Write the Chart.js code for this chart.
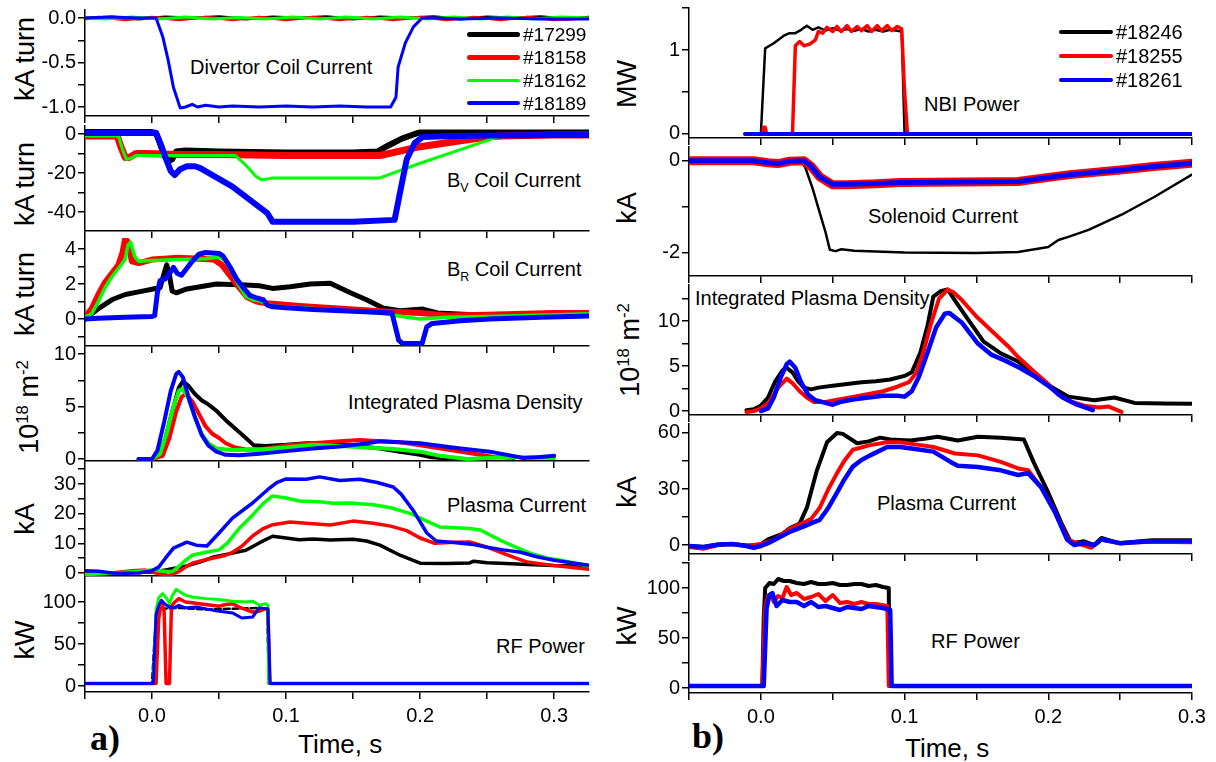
<!DOCTYPE html>
<html>
<head>
<meta charset="utf-8">
<script src="https://cdn.jsdelivr.net/npm/chart.js@4.4.1/dist/chart.umd.min.js"></script>
<style>
  body { margin: 0; background: #fff; }
  #fig { position: relative; width: 1216px; height: 762px; overflow: hidden;
         font-family: "Liberation Sans", Arial, sans-serif; color: #000; }
  #fig canvas { position: absolute; }
  .t { position: absolute; white-space: nowrap; line-height: 1; }
  .ann { font-size: 20px; }
  .yt { font-size: 27px; transform: translate(-50%, -50%) rotate(-90deg); }
  .lab { font-family: "Liberation Serif", "Times New Roman", serif; font-weight: bold; font-size: 36px; }
  .time { font-size: 26px; }
  .sw { position: absolute; }
  sub, sup { font-size: 62%; line-height: 0; }
</style>
</head>
<body>
<div id="fig">
  <div class="t ann" style="left:190px;top:57px">Divertor Coil Current</div>
  <div class="t ann" style="left:447px;top:170px">B<sub>V</sub> Coil Current</div>
  <div class="t ann" style="left:447px;top:259px">B<sub>R</sub> Coil Current</div>
  <div class="t ann" style="left:348px;top:392px">Integrated Plasma Density</div>
  <div class="t ann" style="left:447px;top:495px">Plasma Current</div>
  <div class="t ann" style="left:496px;top:636px">RF Power</div>
  <div class="t ann" style="left:924px;top:94px">NBI Power</div>
  <div class="t ann" style="left:868px;top:206px">Solenoid Current</div>
  <div class="t ann" style="left:695px;top:288px">Integrated Plasma Density</div>
  <div class="t ann" style="left:877px;top:493px">Plasma Current</div>
  <div class="t ann" style="left:931px;top:631px">RF Power</div>

  <div class="t yt" style="left:25px;top:59px">kA turn</div>
  <div class="t yt" style="left:25px;top:184px">kA turn</div>
  <div class="t yt" style="left:25px;top:294px">kA turn</div>
  <div class="t yt" style="left:29px;top:407px">10<sup>18</sup> m<sup>-2</sup></div>
  <div class="t yt" style="left:25px;top:519px">kA</div>
  <div class="t yt" style="left:25px;top:640px">kW</div>
  <div class="t yt" style="left:627px;top:84px">MW</div>
  <div class="t yt" style="left:627px;top:208px">kA</div>
  <div class="t yt" style="left:630px;top:350px">10<sup>18</sup> m<sup>-2</sup></div>
  <div class="t yt" style="left:627px;top:492px">kA</div>
  <div class="t yt" style="left:627px;top:626px">kW</div>

  <div class="t time" style="left:298px;top:731px">Time, s</div>
  <div class="t time" style="left:905px;top:735px">Time, s</div>
  <div class="t lab" style="left:90px;top:720px">a)</div>
  <div class="t lab" style="left:692px;top:718px">b)</div>
</div>
<script>
// shots shown in each column
const shotsA = ["#17299", "#18158", "#18162", "#18189"];
const shotsB = ["#18246", "#18255", "#18261"];

// ---- a) left column, [time s, value]
const divBlack = [[-0.05,0],[-0.03,0.01],[-0.01,-0.01],[0.01,0.01],[0.03,0],[0.05,0.015],[0.07,-0.01],[0.09,0.01],[0.11,0],[0.13,0.015],[0.15,-0.01],[0.17,0.01],[0.19,0],[0.21,0.015],[0.23,-0.01],[0.25,0.01],[0.27,0],[0.29,0.015],[0.31,-0.01],[0.326,0.01]];
const divRed = [[-0.05,-0.01],[-0.04,0.01],[-0.02,-0.02],[0.0,0.01],[0.02,-0.02],[0.04,0.01],[0.06,-0.02],[0.08,0.01],[0.1,-0.02],[0.12,0.01],[0.14,-0.02],[0.16,0.01],[0.18,-0.02],[0.2,0.01],[0.22,-0.02],[0.24,0.01],[0.26,-0.02],[0.28,0.01],[0.3,-0.02],[0.326,0]];
const divGreen = [[-0.05,0],[-0.035,-0.01],[-0.015,0.01],[0.005,-0.01],[0.025,0.01],[0.045,-0.01],[0.065,0.005],[0.085,-0.01],[0.105,0.01],[0.125,-0.01],[0.145,0.01],[0.165,-0.01],[0.185,0.01],[0.205,-0.01],[0.225,0.01],[0.245,-0.01],[0.265,0.01],[0.285,-0.01],[0.305,0.01],[0.326,0]];
const divBlue = [[-0.05,0],[-0.03,0.01],[-0.01,0],[0.003,0],[0.008,-0.21],[0.012,-0.47],[0.016,-0.78],[0.021,-1.01],[0.025,-1.0],[0.03,-0.97],[0.034,-1.0],[0.04,-0.98],[0.05,-1.0],[0.06,-0.99],[0.08,-1.0],[0.1,-0.99],[0.12,-1.0],[0.14,-0.99],[0.16,-1.0],[0.178,-1.0],[0.182,-0.89],[0.1836,-0.55],[0.189,-0.28],[0.195,-0.1],[0.2015,0.0],[0.21,0],[0.23,-0.01],[0.26,0],[0.29,-0.01],[0.326,-0.01]];

const bvBlack = [[-0.05,1],[-0.02,1],[0.0,1],[0.003,0.5],[0.006,-5],[0.009,-11],[0.012,-14],[0.015,-13],[0.018,-9],[0.025,-8.5],[0.05,-9],[0.1,-9.5],[0.15,-9.5],[0.168,-9],[0.176,-6],[0.186,-2.5],[0.196,0],[0.2,0.8],[0.25,0.8],[0.326,0.8]];
const bvRed = [[-0.05,-1],[-0.026,-1],[-0.023,-7],[-0.02,-12],[-0.017,-12],[-0.012,-10],[-0.005,-10],[0.02,-10.5],[0.05,-10.5],[0.1,-11],[0.15,-11],[0.17,-11],[0.2,-6.5],[0.23,-3.5],[0.25,-1.5],[0.26,-1],[0.3,-0.5],[0.326,-0.5]];
const bvGreen = [[-0.05,-1],[-0.025,-1],[-0.022,-8],[-0.019,-13],[-0.016,-12.5],[-0.012,-11],[0.0,-11],[0.03,-11],[0.062,-11],[0.07,-16],[0.078,-22],[0.082,-23.5],[0.09,-22.5],[0.12,-22.5],[0.17,-22.5],[0.2,-15],[0.23,-8],[0.262,-0.5],[0.3,-0.3],[0.326,-0.3]];
const bvBlue = [[-0.05,0.5],[-0.01,0.5],[0.003,0.5],[0.007,-6],[0.01,-12],[0.014,-19],[0.017,-21],[0.021,-18],[0.026,-16.5],[0.032,-16.5],[0.036,-17.5],[0.06,-27],[0.086,-40.5],[0.09,-45],[0.1,-45],[0.15,-45],[0.181,-44],[0.185,-30],[0.19,-13],[0.196,-4.6],[0.202,-1.5],[0.22,-1.2],[0.25,-0.8],[0.3,-0.5],[0.326,-0.5]];

const brBlack = [[-0.05,0],[-0.045,0.3],[-0.04,0.6],[-0.03,1.1],[-0.02,1.4],[-0.01,1.55],[0.0,1.7],[0.006,1.8],[0.009,2.6],[0.011,3.1],[0.013,2.5],[0.015,1.6],[0.018,1.5],[0.025,1.7],[0.048,2.0],[0.07,1.95],[0.08,1.9],[0.09,1.75],[0.103,1.85],[0.118,2.0],[0.133,2.05],[0.148,1.5],[0.16,1.1],[0.172,0.64],[0.185,0.47],[0.202,0.57],[0.213,0.35],[0.24,0.24],[0.267,0.24],[0.3,0.3],[0.326,0.3]];
const brRed = [[-0.05,0.1],[-0.045,0.6],[-0.04,1.4],[-0.035,2.1],[-0.03,2.6],[-0.025,3.1],[-0.022,3.8],[-0.02,4.6],[-0.018,4.4],[-0.015,3.3],[-0.01,3.2],[0,3.4],[0.02,3.5],[0.046,3.4],[0.052,3.1],[0.061,2.2],[0.071,1.26],[0.078,1.0],[0.086,0.9],[0.11,0.75],[0.13,0.65],[0.15,0.55],[0.17,0.45],[0.2,0.35],[0.22,0.2],[0.25,0.25],[0.3,0.35],[0.326,0.35]];
const brGreen = [[-0.05,0.1],[-0.045,0.3],[-0.04,1.0],[-0.035,1.8],[-0.03,2.4],[-0.025,2.9],[-0.02,3.4],[-0.018,4.2],[-0.016,4.4],[-0.013,3.6],[-0.01,3.3],[0,3.35],[0.02,3.4],[0.04,3.45],[0.05,3.55],[0.055,3.3],[0.06,2.6],[0.065,1.9],[0.07,1.3],[0.075,1.1],[0.08,1.05],[0.085,0.9],[0.09,0.75],[0.1,0.7],[0.12,0.6],[0.15,0.45],[0.17,0.35],[0.19,0.1],[0.2,0.0],[0.22,0.1],[0.25,0.15],[0.3,0.25],[0.326,0.3]];
const brBlue = [[-0.05,0],[-0.04,0.05],[-0.02,0.1],[0.0,0.15],[0.002,0.2],[0.004,1.5],[0.006,2.2],[0.01,2.3],[0.013,2.6],[0.016,2.95],[0.019,2.6],[0.022,2.5],[0.026,2.9],[0.03,3.3],[0.035,3.7],[0.04,3.8],[0.05,3.75],[0.053,3.6],[0.058,3.0],[0.063,2.3],[0.068,1.8],[0.073,1.35],[0.078,1.2],[0.083,1.1],[0.086,0.8],[0.09,0.7],[0.1,0.65],[0.12,0.55],[0.15,0.45],[0.179,0.35],[0.184,-1.2],[0.187,-1.4],[0.2015,-1.4],[0.205,-0.45],[0.209,-0.25],[0.23,-0.1],[0.252,0.0],[0.29,0.1],[0.326,0.17]];

const dnBlack = [[-0.01,0],[0.0,0],[0.005,0.3],[0.01,2.0],[0.015,4.5],[0.02,6.8],[0.023,7.4],[0.027,7.0],[0.032,6.2],[0.037,5.6],[0.042,5.2],[0.048,4.6],[0.055,3.7],[0.062,2.9],[0.07,2.0],[0.076,1.3],[0.085,1.25],[0.1,1.35],[0.115,1.5],[0.13,1.45],[0.15,1.3],[0.17,1.0],[0.185,0.7],[0.2,0.4],[0.207,0.2],[0.22,0.05],[0.235,0.0]];
const dnRed = [[-0.01,0],[0.0,0],[0.008,0.3],[0.013,2.0],[0.018,4.5],[0.022,5.9],[0.025,6.2],[0.03,5.5],[0.035,4.3],[0.04,3.1],[0.045,2.4],[0.05,2.0],[0.055,1.5],[0.062,1.1],[0.07,0.9],[0.08,0.9],[0.09,1.1],[0.1,1.3],[0.12,1.5],[0.14,1.7],[0.155,1.8],[0.17,1.7],[0.185,1.6],[0.2,1.3],[0.22,0.9],[0.24,0.5],[0.255,0.2],[0.27,0.1]];
const dnGreen = [[-0.01,0],[0.0,0],[0.006,0.5],[0.011,2.5],[0.016,5.0],[0.02,6.5],[0.023,6.7],[0.027,5.8],[0.032,4.0],[0.037,2.4],[0.042,1.5],[0.048,1.0],[0.06,0.85],[0.08,0.9],[0.1,1.1],[0.12,1.35],[0.14,1.25],[0.16,1.1],[0.18,0.95],[0.2,0.7],[0.215,0.3],[0.235,0.0],[0.25,0.1],[0.27,0.2],[0.3,0.1]];
const dnBlue = [[-0.01,0],[0.0,0],[0.004,0.8],[0.009,3.5],[0.014,6.5],[0.018,8.1],[0.02,8.3],[0.023,7.8],[0.027,6.0],[0.032,4.0],[0.037,2.3],[0.042,1.3],[0.048,0.7],[0.055,0.4],[0.065,0.35],[0.08,0.5],[0.1,0.75],[0.12,1.0],[0.14,1.2],[0.155,1.4],[0.17,1.7],[0.2,1.5],[0.227,1.05],[0.252,0.7],[0.277,0.1],[0.29,0.2],[0.3,0.3]];

const ipBlack = [[-0.05,0.2],[-0.03,0],[-0.01,0.5],[0.0,0.3],[0.01,1.0],[0.026,2.4],[0.035,3.6],[0.046,5.4],[0.06,6.7],[0.07,7.7],[0.081,10.4],[0.09,12.4],[0.1,11.8],[0.11,11.2],[0.12,11.5],[0.133,11.1],[0.15,11.4],[0.16,10.8],[0.17,9.4],[0.185,6.0],[0.2,3.3],[0.22,3.2],[0.237,3.4],[0.24,4.0],[0.25,3.5],[0.26,3.3],[0.28,2.9],[0.3,2.5],[0.326,2.3]];
const ipRed = [[-0.05,-0.3],[-0.03,0],[-0.015,0.8],[-0.005,1.0],[0.0,0.3],[0.008,-0.5],[0.013,-0.8],[0.02,0.5],[0.025,2.0],[0.03,3.3],[0.04,4.5],[0.05,5.5],[0.055,6.0],[0.06,7.0],[0.067,9.0],[0.075,12.5],[0.083,15.0],[0.09,16.3],[0.103,17.2],[0.115,16.8],[0.133,16.2],[0.15,17.5],[0.165,16.8],[0.178,15.8],[0.19,14.3],[0.2,11.8],[0.211,10.0],[0.225,10.4],[0.237,10.5],[0.25,8.7],[0.26,7.0],[0.27,5.3],[0.28,3.7],[0.3,2.5],[0.326,1.3]];
const ipGreen = [[-0.05,-0.5],[-0.03,-0.1],[-0.01,0.6],[0.0,1.0],[0.01,0.6],[0.015,0.5],[0.02,2.2],[0.025,4.3],[0.03,6.0],[0.04,7.0],[0.05,7.8],[0.056,10.0],[0.065,15.0],[0.075,19.5],[0.083,23.5],[0.09,26.0],[0.1,25.3],[0.11,24.3],[0.125,24.0],[0.135,23.5],[0.148,23.6],[0.165,23.0],[0.178,22.0],[0.193,20.0],[0.205,17.5],[0.215,15.5],[0.237,15.0],[0.245,14.5],[0.26,11.0],[0.27,9.0],[0.282,6.7],[0.295,5.0],[0.304,4.4],[0.326,2.4]];
const ipBlue = [[-0.05,0.8],[-0.04,0.6],[-0.03,0],[-0.02,-0.1],[-0.01,0.0],[0.0,0.8],[0.005,2.0],[0.01,5.0],[0.016,8.4],[0.026,10.4],[0.033,9.4],[0.041,9.1],[0.05,13.5],[0.06,18.5],[0.075,23.6],[0.086,28.0],[0.093,30.5],[0.1,31.7],[0.115,31.6],[0.125,32.4],[0.14,31.2],[0.155,31.6],[0.168,30.5],[0.18,29.0],[0.186,26.5],[0.195,21.0],[0.205,13.5],[0.212,10.8],[0.225,10.3],[0.24,9.6],[0.25,8.7],[0.262,7.8],[0.275,7.0],[0.287,5.5],[0.3,4.3],[0.326,2.6]];

const rfBlack = [[-0.05,3],[0.0,3],[0.002,60],[0.004,90],[0.008,92],[0.02,93],[0.04,91],[0.06,92],[0.08,93],[0.086,92],[0.087,3],[0.326,3]];
const rfRed = [[-0.05,3],[0.003,3],[0.005,80],[0.007,100],[0.009,90],[0.0105,3],[0.013,3],[0.0145,95],[0.017,100],[0.02,104],[0.025,100],[0.03,99],[0.035,98],[0.04,97],[0.05,95],[0.055,97],[0.06,98],[0.065,94],[0.07,91],[0.075,88],[0.08,89],[0.085,92],[0.0865,90],[0.088,3],[0.326,3]];
const rfGreen = [[-0.05,3],[0.001,3],[0.003,90],[0.005,105],[0.008,110],[0.011,104],[0.013,98],[0.015,107],[0.018,115],[0.021,112],[0.025,108],[0.03,106],[0.04,104],[0.05,103],[0.06,101],[0.07,100],[0.075,101],[0.08,96],[0.085,98],[0.0865,96],[0.087,3],[0.326,3]];
const rfBlue = [[-0.05,3],[0.001,3],[0.003,85],[0.005,96],[0.007,102],[0.01,97],[0.013,94],[0.016,93],[0.02,96],[0.025,93],[0.033,94],[0.046,90],[0.06,87],[0.067,81],[0.075,82],[0.08,93],[0.0865,92],[0.088,3],[0.326,3]];

// ---- b) right column
const nbiBlack = [[-0.011,0],[0.0,0],[0.003,1.02],[0.006,1.05],[0.009,1.08],[0.012,1.12],[0.016,1.17],[0.02,1.2],[0.024,1.2],[0.028,1.24],[0.032,1.29],[0.036,1.24],[0.04,1.27],[0.045,1.23],[0.05,1.26],[0.055,1.23],[0.06,1.25],[0.065,1.23],[0.07,1.25],[0.075,1.22],[0.08,1.24],[0.085,1.22],[0.09,1.24],[0.095,1.23],[0.098,1.22],[0.1,0],[0.3,0]];
const nbiRed = [[-0.011,0],[0.001,0],[0.002,0.08],[0.003,0.08],[0.004,0],[0.022,0],[0.024,1.05],[0.027,1.1],[0.03,1.05],[0.034,1.07],[0.038,1.12],[0.04,1.22],[0.043,1.2],[0.046,1.27],[0.05,1.22],[0.053,1.28],[0.056,1.22],[0.06,1.29],[0.063,1.22],[0.067,1.28],[0.07,1.23],[0.074,1.29],[0.077,1.22],[0.081,1.29],[0.084,1.23],[0.088,1.29],[0.091,1.23],[0.095,1.28],[0.098,1.25],[0.1,0.5],[0.102,0],[0.3,0]];
const nbiBlue = [[-0.011,0],[0.1,0],[0.2,0],[0.3,0]];

const solBlack = [[-0.05,0],[-0.005,0],[0.005,-0.04],[0.012,-0.06],[0.02,-0.01],[0.028,0.0],[0.031,-0.15],[0.036,-0.6],[0.041,-1.13],[0.045,-1.55],[0.048,-1.93],[0.052,-1.96],[0.056,-1.92],[0.065,-1.95],[0.08,-1.97],[0.1,-1.99],[0.15,-2.0],[0.179,-1.98],[0.2,-1.87],[0.207,-1.72],[0.214,-1.65],[0.228,-1.5],[0.251,-1.17],[0.274,-0.78],[0.3,-0.3]];
const solRed = [[-0.05,0],[-0.02,0],[-0.005,0],[0.005,-0.04],[0.012,-0.06],[0.02,-0.01],[0.03,0.0],[0.035,-0.12],[0.041,-0.35],[0.05,-0.52],[0.06,-0.52],[0.08,-0.5],[0.097,-0.47],[0.14,-0.46],[0.179,-0.45],[0.2,-0.36],[0.215,-0.3],[0.25,-0.2],[0.275,-0.12],[0.3,-0.05]];
const solBlue = [[-0.05,0],[-0.02,0],[-0.005,0],[0.005,-0.04],[0.012,-0.06],[0.02,-0.01],[0.03,0.0],[0.035,-0.12],[0.041,-0.35],[0.05,-0.51],[0.06,-0.51],[0.08,-0.49],[0.097,-0.47],[0.14,-0.46],[0.179,-0.45],[0.2,-0.36],[0.215,-0.3],[0.25,-0.2],[0.275,-0.12],[0.3,-0.05]];

const nbBlack = [[-0.01,0.1],[-0.005,0.2],[0.0,0.6],[0.005,1.5],[0.01,3.3],[0.015,4.5],[0.018,4.8],[0.022,4.3],[0.026,3.3],[0.03,2.6],[0.035,2.4],[0.04,2.6],[0.05,2.8],[0.06,3.0],[0.07,3.2],[0.08,3.3],[0.09,3.5],[0.1,3.9],[0.105,4.3],[0.111,6.5],[0.116,9.5],[0.12,12.7],[0.125,13.3],[0.13,13.5],[0.135,12.3],[0.144,10.2],[0.155,7.7],[0.167,6.4],[0.179,5.5],[0.19,4.2],[0.202,2.7],[0.214,1.6],[0.232,1.2],[0.246,1.5],[0.26,0.9],[0.28,0.85],[0.3,0.8]];
const nbRed = [[-0.01,-0.1],[-0.005,0.0],[0.0,0.3],[0.006,1.0],[0.012,2.6],[0.018,3.6],[0.022,3.1],[0.027,2.2],[0.032,1.5],[0.037,1.0],[0.045,1.0],[0.055,1.3],[0.065,1.6],[0.075,1.9],[0.085,2.2],[0.095,2.7],[0.103,3.2],[0.108,4.2],[0.113,6.5],[0.118,9.5],[0.124,12.5],[0.13,13.5],[0.134,13.2],[0.14,12.3],[0.15,10.5],[0.162,8.7],[0.172,7.2],[0.179,6.0],[0.19,4.4],[0.2,3.0],[0.207,1.8],[0.215,1.1],[0.225,0.6],[0.235,0.4],[0.242,0.5],[0.251,-0.1]];
const nbBlue = [[0.0,0.0],[0.005,0.3],[0.009,1.5],[0.014,3.8],[0.018,5.2],[0.02,5.5],[0.024,4.8],[0.028,3.2],[0.033,1.8],[0.038,1.2],[0.045,0.9],[0.05,0.7],[0.055,1.0],[0.065,1.3],[0.075,1.5],[0.085,1.7],[0.095,1.7],[0.1,1.6],[0.105,2.2],[0.11,3.8],[0.116,6.5],[0.122,9.3],[0.128,10.8],[0.131,10.9],[0.14,9.8],[0.151,7.5],[0.16,6.3],[0.17,5.6],[0.18,4.8],[0.19,3.9],[0.2,2.8],[0.21,1.5],[0.22,0.7],[0.231,0.1]];

const ipbBlack = [[-0.05,-0.5],[-0.04,-1.0],[-0.03,0.3],[-0.02,0.5],[-0.01,-0.2],[-0.005,-0.3],[0.0,0.5],[0.005,3.0],[0.01,4.5],[0.015,6.0],[0.02,9.0],[0.027,11.5],[0.032,20.0],[0.039,40.0],[0.046,55.0],[0.053,60.0],[0.057,59.5],[0.067,54.5],[0.075,55.5],[0.083,57.5],[0.09,56.5],[0.104,56.0],[0.115,57.0],[0.123,58.0],[0.137,56.0],[0.151,58.0],[0.167,57.5],[0.183,56.5],[0.19,44.0],[0.2,28.0],[0.209,12.0],[0.216,1.0],[0.225,2.0],[0.232,0.0],[0.237,3.8],[0.249,1.0],[0.272,2.5],[0.3,2.5]];
const ipbRed = [[-0.05,-1.0],[-0.04,-2.0],[-0.03,0.0],[-0.02,0.5],[-0.01,-0.5],[0.0,0.5],[0.01,3.0],[0.015,6.0],[0.02,8.5],[0.025,10.3],[0.03,12.0],[0.035,14.0],[0.041,20.0],[0.047,30.0],[0.053,38.5],[0.058,45.0],[0.064,51.0],[0.076,53.5],[0.088,55.0],[0.097,55.0],[0.111,53.5],[0.12,52.5],[0.135,49.0],[0.151,48.0],[0.167,44.5],[0.179,41.0],[0.186,40.0],[0.195,31.0],[0.204,19.0],[0.214,2.7],[0.222,0.5],[0.23,-1.5],[0.237,3.0],[0.25,1.0],[0.27,1.8],[0.3,1.5]];
const ipbBlue = [[-0.05,-0.5],[-0.04,-1.0],[-0.03,0.2],[-0.02,0.5],[-0.01,-0.5],[-0.005,-1.5],[0.0,-0.5],[0.005,1.0],[0.01,3.0],[0.02,7.0],[0.03,10.0],[0.036,12.0],[0.041,13.5],[0.047,20.0],[0.053,28.0],[0.058,35.0],[0.064,42.0],[0.07,45.5],[0.076,48.0],[0.088,52.5],[0.097,52.5],[0.106,51.5],[0.12,50.0],[0.132,44.5],[0.137,42.5],[0.151,41.8],[0.167,40.0],[0.179,37.5],[0.186,38.5],[0.195,31.0],[0.205,17.0],[0.213,3.0],[0.218,0.0],[0.225,1.0],[0.232,0.0],[0.237,3.0],[0.25,1.0],[0.27,2.0],[0.3,2.0]];

const rfbBlack = [[-0.05,2],[0.001,2],[0.002,70],[0.003,100],[0.006,105],[0.009,104],[0.012,109],[0.016,107],[0.02,107],[0.025,105],[0.03,104],[0.035,106],[0.04,104],[0.045,104],[0.05,105],[0.055,103],[0.06,103],[0.065,104],[0.07,104],[0.075,102],[0.08,103],[0.085,101],[0.089,100],[0.0895,2],[0.3,2]];
const rfbRed = [[-0.05,2],[0.001,2],[0.003,80],[0.005,92],[0.007,94],[0.009,86],[0.012,92],[0.015,90],[0.018,101],[0.021,93],[0.025,95],[0.03,89],[0.035,91],[0.04,94],[0.045,87],[0.05,93],[0.055,85],[0.06,86],[0.065,84],[0.07,86],[0.075,84],[0.08,84],[0.088,82],[0.089,2],[0.3,2]];
const rfbBlue = [[-0.05,2],[0.002,2],[0.004,80],[0.006,93],[0.008,95],[0.011,82],[0.015,88],[0.02,86],[0.025,86],[0.03,82],[0.035,86],[0.04,81],[0.045,82],[0.05,80],[0.055,78],[0.06,81],[0.065,80],[0.07,79],[0.075,82],[0.08,81],[0.085,80],[0.09,78],[0.091,2],[0.3,2]];

const BLACK = "#000000", RED = "#ff0000", GREEN = "#00ff00", BLUE = "#0000ff";
const FONT = "'Liberation Sans', Arial, sans-serif";
const YW = 80, PR = 26, PT = 14;
const fig = document.getElementById("fig");

function isMult(v, step) {
  const q = v / step;
  return Math.abs(q - Math.round(q)) < 1e-6;
}

// avoids "-0.0" from floating point ticks
function fmt(v, dec) {
  return (Math.abs(v) < 1e-9 ? 0 : v).toFixed(dec);
}

function line(pts, color, w, order, dash) {
  return {
    data: pts.map(p => ({ x: p[0], y: p[1] })),
    borderColor: color, borderWidth: w, borderDash: dash || [],
    pointRadius: 0, tension: 0, order: order,
    borderJoinStyle: "round", borderCapStyle: "round"
  };
}

function panel(left, top, right, bottom, xMax, yMin, yMax, yStep, yMajor, dec, showX, sets) {
  const xh = showX ? 36 : 10;
  const c = document.createElement("canvas");
  c.width = right - left + YW + PR;
  c.height = bottom - top + PT + xh;
  c.style.left = (left - YW) + "px";
  c.style.top = (top - PT) + "px";
  fig.appendChild(c);
  const axis = { color: BLACK, width: 1.5 };
  const grid = { drawOnChartArea: false, color: BLACK, lineWidth: 1.5, tickLength: 7 };
  new Chart(c, {
    type: "line",
    data: { datasets: sets },
    options: {
      responsive: false, animation: false, events: [],
      layout: { padding: { left: 0, right: PR, top: PT, bottom: 0 } },
      plugins: { legend: { display: false }, tooltip: { enabled: false } },
      scales: {
        x: {
          type: "linear", min: -0.05, max: xMax, border: axis, grid: grid,
          afterFit: s => { s.height = xh; s.paddingLeft = 0; s.paddingRight = 0; },
          ticks: {
            stepSize: 0.05, includeBounds: false, autoSkip: false, maxRotation: 0,
            color: BLACK, padding: 5, font: { family: FONT, size: 20 },
            callback: v => (showX && isMult(v, 0.1)) ? fmt(v, 1) : ""
          }
        },
        y: {
          type: "linear", min: yMin, max: yMax, border: axis, grid: grid,
          afterFit: s => { s.width = YW; s.paddingTop = 0; s.paddingBottom = 0; },
          ticks: {
            stepSize: yStep, includeBounds: false, autoSkip: false,
            color: BLACK, padding: 2, font: { family: FONT, size: 20 },
            callback: v => isMult(v, yMajor) ? fmt(v, dec) : ""
          }
        }
      }
    }
  });
}

// a) column
const AL = 85, AR = 589, AX = 0.326;
panel(AL, 10, AR, 116, AX, -1.101, 0.09, 0.25, 0.5, 1, false, [
  line(divBlack, BLACK, 3, 4), line(divRed, RED, 3, 3), line(divGreen, GREEN, 3, 2), line(divBlue, BLUE, 3, 1)]);
panel(AL, 126, AR, 231, AX, -49.7, 4.1, 10, 20, 0, false, [
  line(bvBlack, BLACK, 6, 4), line(bvRed, RED, 7, 3), line(bvGreen, GREEN, 3, 2), line(bvBlue, BLUE, 6, 1)]);
panel(AL, 238, AR, 346, AX, -1.54, 4.63, 1, 2, 0, false, [
  line(brBlack, BLACK, 5, 4), line(brRed, RED, 6, 3), line(brGreen, GREEN, 3.5, 2), line(brBlue, BLUE, 5, 1)]);
panel(AL, 353, AR, 461, AX, -0.19, 10.1, 2.5, 5, 0, false, [
  line(dnBlack, BLACK, 4, 4), line(dnRed, RED, 4, 3), line(dnGreen, GREEN, 4, 2), line(dnBlue, BLUE, 4, 1)]);
panel(AL, 469, AR, 576, AX, -1.0, 35.06, 5, 10, 0, false, [
  line(ipBlack, BLACK, 3.5, 4), line(ipRed, RED, 3.5, 3), line(ipGreen, GREEN, 3.5, 2), line(ipBlue, BLUE, 3.5, 1)]);
panel(AL, 584, AR, 692, AX, -7.1, 121.4, 25, 50, 0, true, [
  line(rfBlack, BLACK, 2.5, 4, [6, 3]), line(rfRed, RED, 3.5, 3), line(rfGreen, GREEN, 3, 2), line(rfBlue, BLUE, 3, 1)]);

// b) column
const BL = 689, BR = 1192, BX = 0.3;
panel(BL, 8, BR, 138, BX, -0.048, 1.5, 0.5, 1, 0, false, [
  line(nbiBlack, BLACK, 2.5, 3), line(nbiRed, RED, 3.5, 2), line(nbiBlue, BLUE, 4, 1)]);
panel(BL, 147, BR, 276, BX, -2.5, 0.3, 1, 2, 0, false, [
  line(solBlack, BLACK, 2.5, 3), line(solRed, RED, 9, 2), line(solBlue, BLUE, 5, 1)]);
panel(BL, 285, BR, 415, BX, -0.44, 14, 2.5, 5, 0, false, [
  line(nbBlack, BLACK, 4, 3), line(nbRed, RED, 4, 2), line(nbBlue, BLUE, 4.5, 1)]);
panel(BL, 424, BR, 554, BX, -4.8, 64.8, 15, 30, 0, false, [
  line(ipbBlack, BLACK, 4, 3), line(ipbRed, RED, 4, 2), line(ipbBlue, BLUE, 4.5, 1)]);
panel(BL, 563, BR, 693, BX, -5, 125, 25, 50, 0, true, [
  line(rfbBlack, BLACK, 4, 3), line(rfbRed, RED, 4, 2), line(rfbBlue, BLUE, 4.5, 1)]);

// legends
function legend(names, colors, widths, x0, x1, y0, dy, size) {
  names.forEach((n, i) => {
    const y = y0 + i * dy;
    const sw = document.createElement("div");
    sw.className = "sw";
    sw.style.cssText = `left:${x0}px;top:${y - widths[i] / 2}px;width:${x1 - x0}px;height:${widths[i]}px;background:${colors[i]};border-radius:${widths[i] / 2}px`;
    fig.appendChild(sw);
    const t = document.createElement("div");
    t.className = "t";
    t.style.cssText = `left:${x1 + 3}px;top:${y + 7 - 0.85 * size}px;font-size:${size}px`;
    t.textContent = n;
    fig.appendChild(t);
  });
}
legend(shotsA, [BLACK, RED, GREEN, BLUE], [5, 5, 3, 4], 467, 520, 34, 23, 19);
legend(shotsB, [BLACK, RED, BLUE], [4, 4, 4], 1059, 1113, 32, 24, 20);
</script>
</body>
</html>
